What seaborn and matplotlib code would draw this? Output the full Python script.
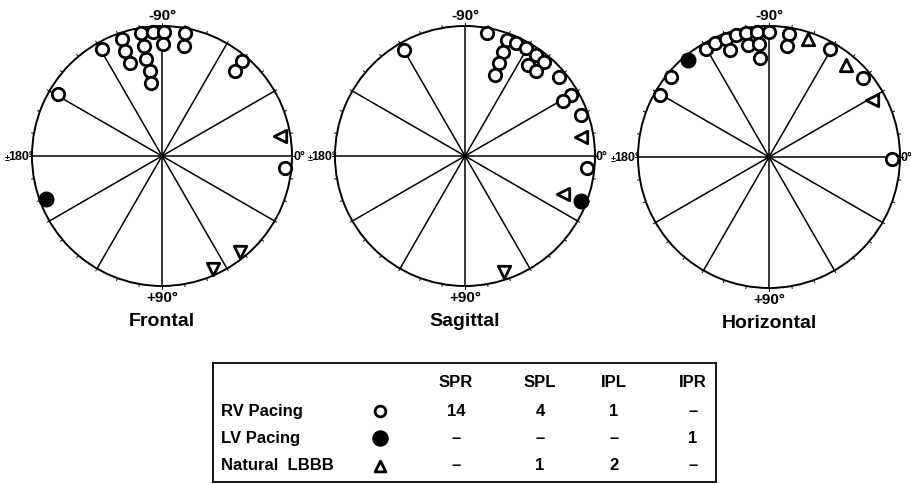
import numpy as np
import pandas as pd
import matplotlib
matplotlib.use("Agg")
import matplotlib.pyplot as plt
import seaborn as sns

sns.set_theme(style="white")
plt.rcParams['font.family'] = ['Liberation Sans', 'DejaVu Sans']
plt.rcParams['text.color'] = 'black'

# ---- data: angle (deg, 0=right, +90=bottom) and relative radius ----
panels = ["Frontal", "Sagittal", "Horizontal"]

frontal_rv_ang = [-119.2, -108.9, -109.3, -108.7, -99.5, -94.1, -89.2, -99.3, -99.6,
                  -97.8, -98.8, -89.5, -79.3, -78.9, -49.8, -49.5, -149.3, 5.4]
frontal_rv_r = [0.946, 0.949, 0.856, 0.758, 0.962, 0.959, 0.957, 0.857, 0.754,
                0.660, 0.571, 0.859, 0.966, 0.862, 0.957, 0.860, 0.930, 0.953]
frontal_lv_ang = [159.8]
frontal_lv_r = [0.948]
frontal_lbbb_ang = [-9.6, 50.7, 65.6]
frontal_lbbb_r = [0.918, 0.951, 0.951]

sagittal_rv_ang = [-119.8, -80.0, -70.3, -69.9, -69.8, -69.8, -65.5, -60.3, -55.1,
                   -50.1, -55.4, -49.9, -40.1, -30.0, -29.2, -19.4, 5.4]
sagittal_rv_r = [0.940, 0.958, 0.948, 0.855, 0.761, 0.666, 0.953, 0.954, 0.949,
                 0.947, 0.853, 0.851, 0.943, 0.943, 0.862, 0.946, 0.940]
sagittal_lv_ang = [21.1]
sagittal_lv_r = [0.957]
sagittal_lbbb_ang = [-9.2, 21.0, 71.4]
sagittal_lbbb_r = [0.905, 0.806, 0.942]

horizontal_rv_ang = [-150.3, -140.7, -120.5, -115.2, -110.1, -105.0, -100.4, -95.3, -90.0,
                     -110.2, -100.7, -95.1, -95.0, -80.9, -80.8, -60.6, -40.2, 0.8]
horizontal_rv_r = [0.960, 0.964, 0.953, 0.962, 0.962, 0.962, 0.962, 0.960, 0.955,
                   0.868, 0.868, 0.863, 0.759, 0.954, 0.856, 0.944, 0.939, 0.942]
horizontal_lv_ang = [-130.0]
horizontal_lv_r = [0.962]
horizontal_lbbb_ang = [-71.8, -49.8, -28.7]
horizontal_lbbb_r = [0.951, 0.916, 0.900]

# ---- table data ----
col_labels = ["SPR", "SPL", "IPL", "IPR"]
row_labels = ["RV Pacing", "LV Pacing", "Natural  LBBB"]
rv_counts = ["14", "4", "1", "–"]
lv_counts = ["–", "–", "–", "1"]
lbbb_counts = ["–", "1", "2", "–"]

data = {
    "Frontal": (frontal_rv_ang, frontal_rv_r, frontal_lv_ang, frontal_lv_r,
                frontal_lbbb_ang, frontal_lbbb_r),
    "Sagittal": (sagittal_rv_ang, sagittal_rv_r, sagittal_lv_ang, sagittal_lv_r,
                 sagittal_lbbb_ang, sagittal_lbbb_r),
    "Horizontal": (horizontal_rv_ang, horizontal_rv_r, horizontal_lv_ang, horizontal_lv_r,
                   horizontal_lbbb_ang, horizontal_lbbb_r),
}

W, H = 912, 485
fig = plt.figure(figsize=(W / 100, H / 100), dpi=100)
fig.patch.set_facecolor("white")

centers = {"Frontal": (162, 157, 130), "Sagittal": (465, 157, 130), "Horizontal": (769, 158, 131)}

lab_kw = dict(fontsize=11, fontweight="bold", color="black")
side_kw = dict(fontsize=9, fontweight="bold", color="black")

def tri_marker(a):
    if abs(a) < 30:
        return "<"
    return "v" if a > 0 else "^"

for name in panels:
    cx, cy, R = centers[name]
    ax = fig.add_axes([(cx - R) / W, (H - cy - R) / H, 2 * R / W, 2 * R / H], projection="polar")
    ax.set_theta_zero_location("E")
    ax.set_theta_direction(-1)
    ax.set_ylim(0, 1)
    ax.grid(False)
    ax.set_xticks([])
    ax.set_yticks([])
    ax.spines["polar"].set_linewidth(1.4)
    ax.spines["polar"].set_color("black")
    ax.set_facecolor("white")
    # spokes every 30 degrees
    for a in range(0, 360, 30):
        t = np.deg2rad(a)
        ax.plot([t, t], [0, 1], color="black", lw=1.1, zorder=1)
    # small ticks every 10 degrees
    for a in range(0, 360, 10):
        t = np.deg2rad(a)
        ax.plot([t, t], [1.0, 1.02], color="black", lw=0.7, clip_on=False, zorder=1)

    rv_a, rv_r, lv_a, lv_r, lb_a, lb_r = data[name]
    df_rv = pd.DataFrame({"theta": np.deg2rad(rv_a), "r": rv_r})
    sns.scatterplot(data=df_rv, x="theta", y="r", ax=ax, marker="o", s=80,
                    facecolor="white", edgecolor="black", linewidth=2.0, zorder=3, clip_on=False)
    df_lv = pd.DataFrame({"theta": np.deg2rad(lv_a), "r": lv_r})
    sns.scatterplot(data=df_lv, x="theta", y="r", ax=ax, marker="o", s=110,
                    color="black", edgecolor="black", linewidth=1.0, zorder=3, clip_on=False)
    for a, r in zip(lb_a, lb_r):
        sns.scatterplot(x=[np.deg2rad(a)], y=[r], ax=ax, marker=tri_marker(a), s=80,
                        facecolor="white", edgecolor="black", linewidth=2.0, zorder=3, clip_on=False)
    ax.set_xlabel("")
    ax.set_ylabel("")

    # angle labels
    fig.text(cx / W, (H - (cy - R - 11)) / H, "-90°", ha="center", va="center", **lab_kw)
    fig.text(cx / W, (H - (cy + R + 11)) / H, "+90°", ha="center", va="center", **lab_kw)
    fig.text((cx + R + 1) / W, (H - cy) / H, "0°", ha="left", va="center", **side_kw)
    fig.text((cx - R + 2) / W, (H - cy) / H, "180°", ha="right", va="center", **side_kw)
    fig.text((cx - R - 22) / W, (H - cy - 2) / H, "±", ha="right", va="center",
             fontsize=6.5, fontweight="bold", color="black")
    fig.text(cx / W, (H - (cy + R + 35)) / H, name, ha="center", va="center",
             fontsize=14, fontweight="bold", color="black")

# ---- table ----
tx0, ty0, tx1, ty1 = 213, 364, 716, 483
tax = fig.add_axes([tx0 / W, (H - ty1) / H, (tx1 - tx0) / W, (ty1 - ty0) / H])
tax.set_xlim(tx0, tx1)
tax.set_ylim(ty1, ty0)
tax.set_xticks([])
tax.set_yticks([])
for s in tax.spines.values():
    s.set_linewidth(1.3)
    s.set_color("black")
tax.set_facecolor("white")

col_x = [456, 540, 614, 693]
row_y = [412, 439, 466]
head_y = 383
tfs = 12
for x, lab in zip(col_x, col_labels):
    tax.text(x, head_y, lab, ha="center", va="center", fontsize=tfs, fontweight="bold")
for y, lab in zip(row_y, row_labels):
    tax.text(221, y, lab, ha="left", va="center", fontsize=tfs, fontweight="bold")
for y, vals in zip(row_y, [rv_counts, lv_counts, lbbb_counts]):
    for x, v in zip(col_x, vals):
        tax.text(x, y, v, ha="center", va="center", fontsize=tfs, fontweight="bold")

sym_x = 380
sns.scatterplot(x=[sym_x], y=[row_y[0]], ax=tax, marker="o", s=60, facecolor="white",
                edgecolor="black", linewidth=2.0)
sns.scatterplot(x=[sym_x], y=[row_y[1]], ax=tax, marker="o", s=120, color="black",
                edgecolor="black")
sns.scatterplot(x=[sym_x], y=[row_y[2] + 1], ax=tax, marker="^", s=60, facecolor="white",
                edgecolor="black", linewidth=2.0)
tax.set_xlabel("")
tax.set_ylabel("")

fig.savefig("out.png", dpi=100, facecolor="white")
